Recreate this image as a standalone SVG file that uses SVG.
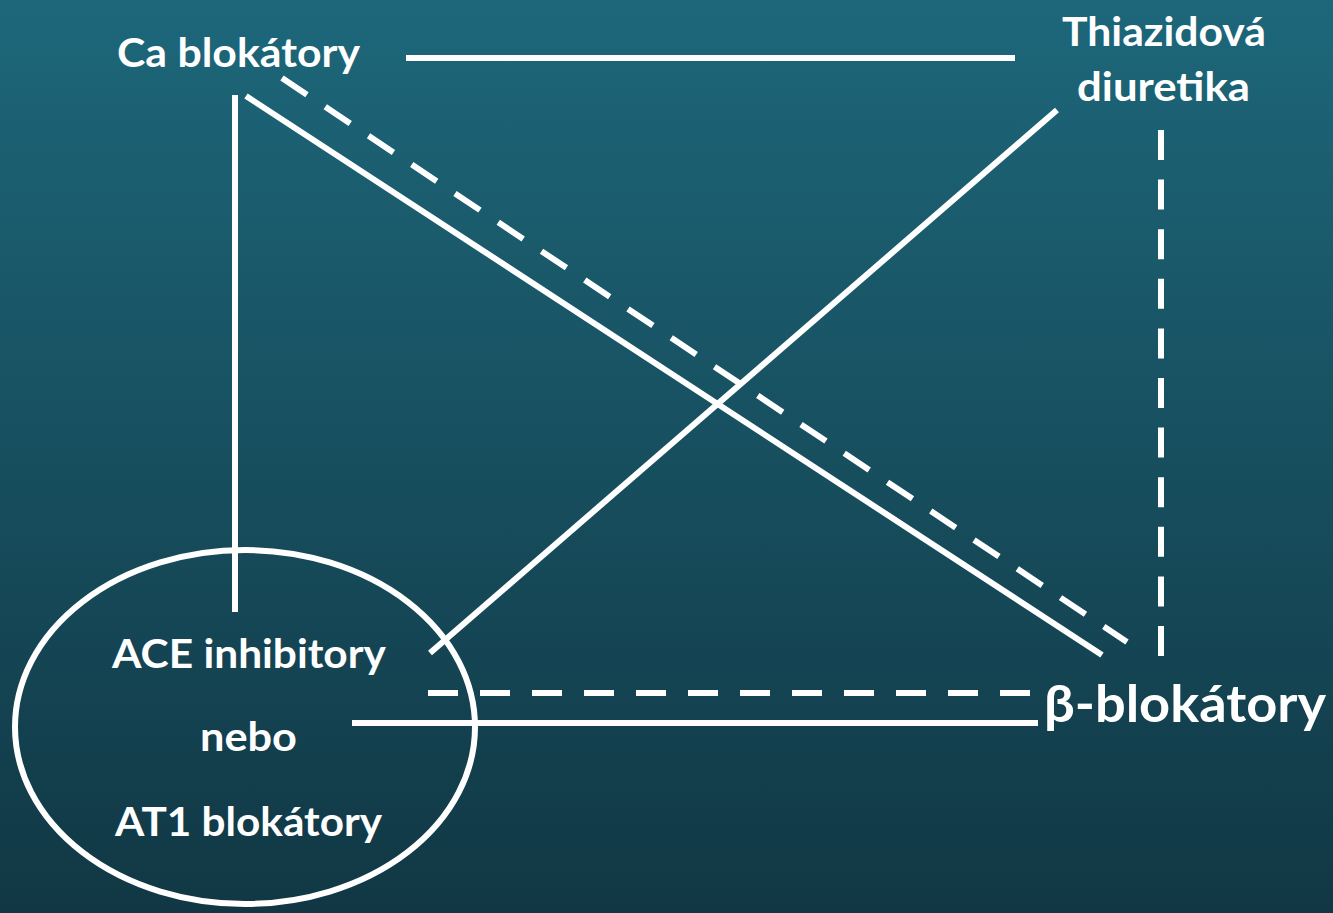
<svg xmlns="http://www.w3.org/2000/svg" width="1333" height="913" viewBox="0 0 1333 913">
  <defs>
    <linearGradient id="bg" x1="0" y1="0" x2="0" y2="1">
      <stop offset="0" stop-color="#1d677a"/>
      <stop offset="1" stop-color="#113744"/>
    </linearGradient>
  </defs>
  <style>
    .lbl { font-family: Lato, "Open Sans", "Liberation Sans", sans-serif; font-weight: bold; fill: #ffffff; }
    .s { font-size: 40px; }
    .b { font-size: 51px; }
    .ln { stroke: #ffffff; stroke-width: 6; fill: none; }
    .dash { stroke-dasharray: 30 22; }
  </style>
  <rect x="0" y="0" width="1333" height="913" fill="url(#bg)"/>

  <g id="connectors">
    <!-- solid links -->
    <line class="ln" x1="406" y1="58" x2="1015" y2="58"/>
    <line class="ln" x1="235" y1="95" x2="235" y2="612"/>
    <line class="ln" x1="246" y1="96" x2="1102" y2="655"/>
    <line class="ln" x1="430" y1="653" x2="1057" y2="110"/>
    <line class="ln" x1="352" y1="723" x2="1038" y2="723"/>
    <!-- dashed links -->
    <line class="ln dash" x1="282" y1="78" x2="1127" y2="642"/>
    <line class="ln" stroke-dasharray="30 19.6" x1="1161" y1="130" x2="1161" y2="656"/>
    <line class="ln dash" x1="428" y1="693" x2="1034" y2="693"/>
  </g>

  <g id="ca-blokatory">
    <text class="lbl s" x="117" y="67" textLength="243" lengthAdjust="spacingAndGlyphs">Ca blokátory</text>
  </g>

  <g id="thiazidova-diuretika">
    <text class="lbl s" x="1062" y="46" textLength="204" lengthAdjust="spacingAndGlyphs">Thiazidová</text>
    <text class="lbl s" x="1077" y="101" textLength="173" lengthAdjust="spacingAndGlyphs">diuretika</text>
  </g>

  <g id="ace-at1">
    <ellipse class="ln" cx="245" cy="727" rx="230" ry="177"/>
    <text class="lbl s" x="112" y="668" textLength="274" lengthAdjust="spacingAndGlyphs">ACE inhibitory</text>
    <text class="lbl s" x="200" y="751" textLength="97" lengthAdjust="spacingAndGlyphs">nebo</text>
    <text class="lbl s" x="115" y="836" textLength="267" lengthAdjust="spacingAndGlyphs">AT1 blokátory</text>
  </g>

  <g id="beta-blokatory">
    <text class="lbl b" x="1044" y="722" textLength="282" lengthAdjust="spacingAndGlyphs">β-blokátory</text>
  </g>
</svg>
